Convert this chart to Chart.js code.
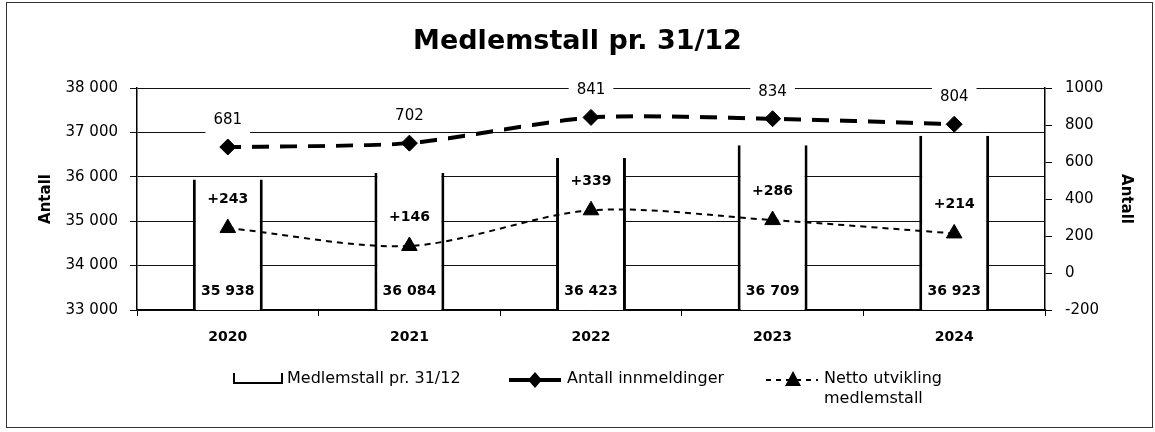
<!DOCTYPE html>
<html>
<head>
<meta charset="utf-8">
<script src="https://cdn.jsdelivr.net/npm/chart.js@4"></script>
<style>
  html, body { margin: 0; padding: 0; background: #fff; }
  #wrap { position: relative; width: 1155px; height: 432px; }
  #marco { position: absolute; left: 6px; top: 2px; width: 1147px; height: 426px; border: 1px solid #333; box-sizing: border-box; pointer-events: none; }
</style>
</head>
<body>
<div id="wrap">
  <canvas id="grafico" width="1155" height="432"></canvas>
  <div id="marco"></div>
</div>
<script>
var anios = ['2020', '2021', '2022', '2023', '2024'];
var medlemstall = [35938, 36084, 36423, 36709, 36923]; // barras, eje izquierdo
var innmeldinger = [681, 702, 841, 834, 804]; // linea rayada gruesa, eje derecho
var nettoUtvikling = [243, 146, 339, 286, 214]; // linea rayada fina, eje derecho
var titulo = 'Medlemstall pr. 31/12';
var ejeTitulo = 'Antall';
var leyendaTextos = ['Medlemstall pr. 31/12', 'Antall innmeldinger', ['Netto utvikling', 'medlemstall']];

var fuente = '"DejaVu Sans", sans-serif';

function conEspacio(v) {
    return String(v).replace(/\B(?=(\d{3})+(?!\d))/g, ' ');
}

// patron de rayas verticales: la linea gruesa es casi horizontal, asi sale rayada
function patronRayado(largo, hueco) {
    var c = document.createElement('canvas');
    c.width = largo + hueco;
    c.height = 8;
    var cx = c.getContext('2d');
    cx.fillStyle = '#000';
    cx.fillRect(0, 0, largo, 8);
    return document.getElementById('grafico').getContext('2d').createPattern(c, 'repeat');
}

var etiquetasPlugin = {
    id: 'etiquetas',
    afterDatasetsDraw: function(chart) {
        var ctx = chart.ctx;
        var area = chart.chartArea;
        ctx.save();
        ctx.textAlign = 'center';
        ctx.textBaseline = 'middle';
        // valores de las barras
        ctx.font = 'bold 14px ' + fuente;
        ctx.fillStyle = '#000';
        chart.getDatasetMeta(0).data.forEach(function(bar, i) {
            ctx.fillText(conEspacio(medlemstall[i]), bar.x, area.bottom - 19);
        });
        // innmeldinger, con fondo blanco
        ctx.font = '15px ' + fuente;
        chart.getDatasetMeta(2).data.forEach(function(p, i) {
            var txt = String(innmeldinger[i]);
            var w = ctx.measureText(txt).width;
            ctx.fillStyle = '#fff';
            ctx.fillRect(p.x - w / 2 - 8, p.y - 27 - 12, w + 16, 26);
            ctx.fillStyle = '#000';
            ctx.fillText(txt, p.x, p.y - 27);
        });
        // netto
        ctx.font = 'bold 14px ' + fuente;
        chart.getDatasetMeta(4).data.forEach(function(p, i) {
            var v = nettoUtvikling[i];
            ctx.fillText((v > 0 ? '+' : '') + v, p.x, p.y - 29);
        });
        ctx.restore();
    }
};

var leyendaPlugin = {
    id: 'leyenda',
    afterDraw: function(chart) {
        var ctx = chart.ctx;
        var y = 379;
        ctx.save();
        ctx.strokeStyle = '#000';
        ctx.fillStyle = '#000';
        // barra
        ctx.lineWidth = 2;
        ctx.beginPath();
        ctx.moveTo(234, y - 6); ctx.lineTo(234, y + 4); ctx.lineTo(282, y + 4); ctx.lineTo(282, y - 6);
        ctx.stroke();
        // linea con rombo
        ctx.lineWidth = 4;
        ctx.beginPath();
        ctx.moveTo(509, y + 1); ctx.lineTo(561, y + 1);
        ctx.stroke();
        ctx.beginPath();
        ctx.moveTo(535, y - 7); ctx.lineTo(542, y + 1); ctx.lineTo(535, y + 9); ctx.lineTo(528, y + 1);
        ctx.closePath();
        ctx.fill();
        // linea fina con triangulo
        ctx.lineWidth = 2;
        ctx.setLineDash([5, 5]);
        ctx.beginPath();
        ctx.moveTo(766, y + 1); ctx.lineTo(818, y + 1);
        ctx.stroke();
        ctx.setLineDash([]);
        ctx.beginPath();
        ctx.moveTo(793, y - 8); ctx.lineTo(801, y + 7); ctx.lineTo(785, y + 7);
        ctx.closePath();
        ctx.fill();
        // textos
        ctx.font = '16px ' + fuente;
        ctx.textAlign = 'left';
        ctx.textBaseline = 'middle';
        ctx.fillText(leyendaTextos[0], 287, y);
        ctx.fillText(leyendaTextos[1], 567, y);
        ctx.fillText(leyendaTextos[2][0], 824, y);
        ctx.fillText(leyendaTextos[2][1], 824, y + 20);
        ctx.restore();
    }
};

var ctxGrafico = document.getElementById('grafico').getContext('2d');
var grafico = new Chart(ctxGrafico, {
    type: 'bar',
    data: {
        labels: anios,
        datasets: [
            {
                label: 'Medlemstall pr. 31/12',
                data: medlemstall,
                yAxisID: 'y',
                backgroundColor: '#fff',
                borderColor: '#000',
                borderWidth: { left: 3, right: 3, top: 0, bottom: 0 },
                borderSkipped: false,
                categoryPercentage: 1,
                barPercentage: 0.385,
                order: 5
            },
            {
                // solo la linea, rayada con el patron
                type: 'line',
                label: 'Antall innmeldinger',
                data: innmeldinger,
                yAxisID: 'y1',
                borderColor: patronRayado(17, 11),
                borderWidth: 4,
                tension: 0.25,
                pointRadius: 0,
                fill: false,
                order: 2
            },
            {
                // rombos
                type: 'line',
                label: 'Antall innmeldinger (punkt)',
                data: innmeldinger,
                yAxisID: 'y1',
                showLine: false,
                backgroundColor: '#000',
                borderColor: '#000',
                pointStyle: 'rectRot',
                pointRadius: 8,
                order: 1
            },
            {
                type: 'line',
                label: 'Netto utvikling medlemstall',
                data: nettoUtvikling,
                yAxisID: 'y1',
                borderColor: '#000',
                borderWidth: 2,
                borderDash: [6, 5],
                tension: 0.3,
                pointRadius: 0,
                fill: false,
                order: 4
            },
            {
                // triangulos
                type: 'line',
                label: 'Netto utvikling (punkt)',
                data: nettoUtvikling,
                yAxisID: 'y1',
                showLine: false,
                backgroundColor: '#000',
                borderColor: '#000',
                pointStyle: 'triangle',
                pointRadius: 9,
                order: 3
            }
        ]
    },
    options: {
        responsive: false,
        animation: false,
        layout: { padding: { left: 10, right: 10, top: 0, bottom: 82 } },
        plugins: {
            legend: { display: false },
            tooltip: { enabled: false },
            title: {
                display: true,
                text: titulo,
                color: '#000',
                font: { family: fuente, size: 27, weight: 'bold' },
                padding: { top: 26, bottom: 29.6 }
            }
        },
        scales: {
            x: {
                grid: { drawOnChartArea: false, color: '#000', tickLength: 6, offset: true },
                border: { color: '#000', width: 1.5 },
                ticks: { color: '#000', font: { family: fuente, size: 14, weight: 'bold' }, padding: 13 },
                afterFit: function(scale) { scale.height = 40; }
            },
            y: {
                position: 'left',
                min: 33000,
                max: 38000,
                grid: { color: '#111', lineWidth: 1, tickLength: 7 },
                border: { color: '#000', width: 1.5 },
                ticks: {
                    stepSize: 1000,
                    color: '#000',
                    padding: 12,
                    font: { family: fuente, size: 15 },
                    callback: function(v) { return conEspacio(v); }
                },
                title: {
                    display: true,
                    text: ejeTitulo,
                    color: '#000',
                    font: { family: fuente, size: 15, weight: 'bold' },
                    padding: { top: 27, bottom: 0 }
                },
                afterFit: function(scale) { scale.width = 127; }
            },
            y1: {
                position: 'right',
                min: -200,
                max: 1000,
                grid: { drawOnChartArea: false, color: '#000', tickLength: 7 },
                border: { color: '#000', width: 1.5 },
                ticks: {
                    stepSize: 200,
                    color: '#000',
                    padding: 13,
                    font: { family: fuente, size: 15 },
                    callback: function(v) { return String(v); }
                },
                title: {
                    display: true,
                    text: ejeTitulo,
                    color: '#000',
                    font: { family: fuente, size: 15, weight: 'bold' },
                    padding: { top: 10, bottom: 0 }
                },
                afterFit: function(scale) { scale.width = 100; }
            }
        }
    },
    plugins: [etiquetasPlugin, leyendaPlugin]
});
</script>
</body>
</html>
